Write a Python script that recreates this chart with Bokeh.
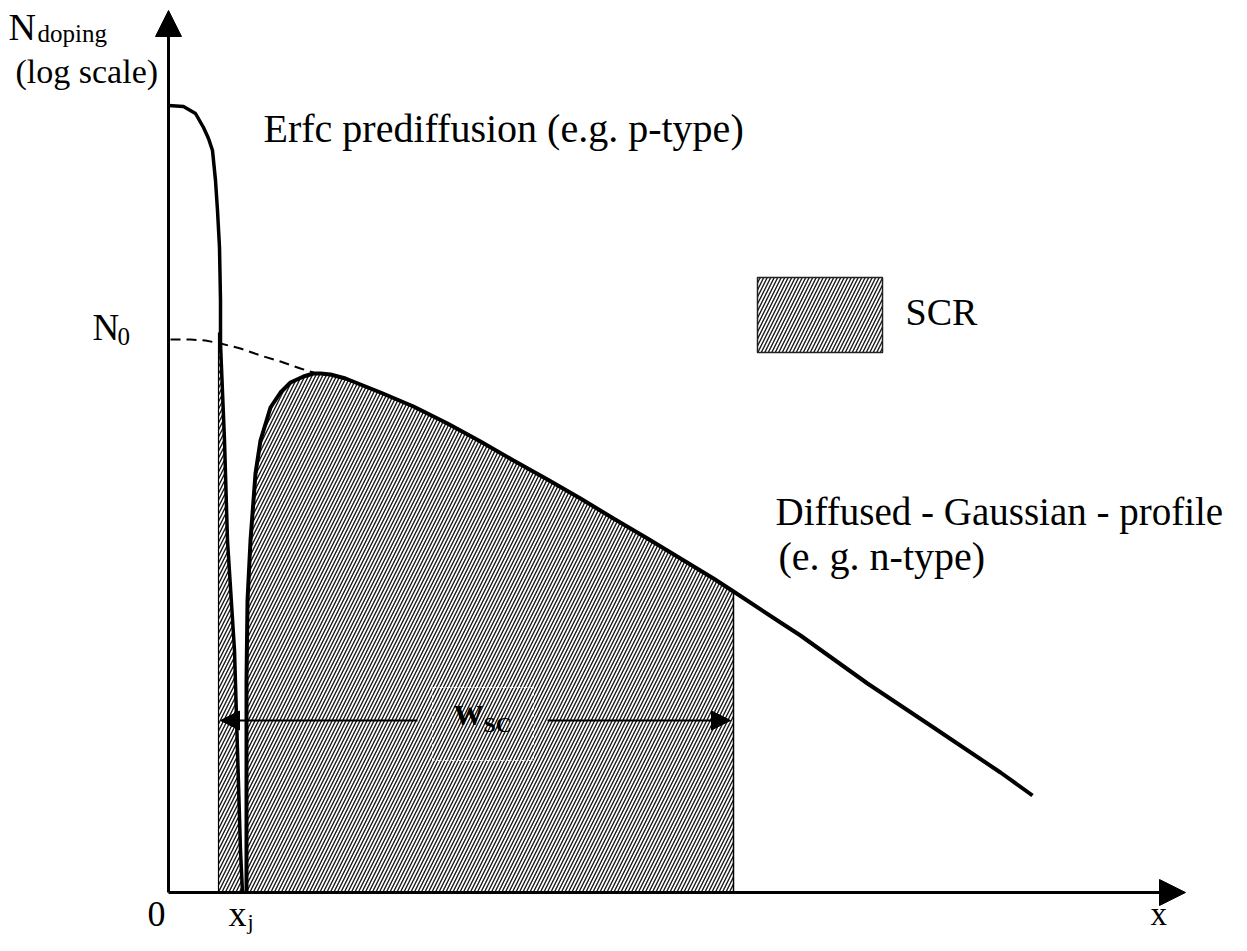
from bokeh.plotting import figure
from bokeh.models import Range1d, Arrow, NormalHead
from bokeh.core.properties import value
from bokeh.embed import file_html
from bokeh.resources import INLINE

# ---- data (depth x, log-doping y; arbitrary units) ----
erfc_x = [0, 15, 27, 35, 40, 44, 45, 46, 47, 49, 51, 52, 52, 56, 59, 66, 69, 72, 74]
erfc_y = [787, 786, 779, 765, 754, 742, 732, 722, 712, 682, 645, 592, 549, 452, 352, 242, 142, 42, 0]

gauss_x = [78, 78, 78, 79, 82, 87, 92, 102, 112, 122, 135, 145, 152, 162, 177, 212, 245,
           279, 312, 345, 379, 412, 445, 479, 512, 545, 565, 612, 632, 699, 765, 832, 864]
gauss_y = [0, 112, 212, 292, 352, 419, 452, 485, 500, 510, 516, 519, 519, 518, 514, 500, 486,
           469, 451, 432, 413, 394, 374, 354, 334, 314, 301, 270, 257, 209, 165, 120, 97]

surf_x = [2, 22, 37, 52, 72, 92, 112, 132, 145]        # dashed: Gaussian near the surface
surf_y = [553, 553, 552, 549, 544, 537, 531, 524, 520]

scr_left = 50       # left edge of space-charge region
scr_right = 565     # right edge of space-charge region
x_axis_end = 1017
y_axis_end = 882

FONT = value("Liberation Serif")

p = figure(width=1231, height=935, output_backend="svg", toolbar_location=None,
           x_range=Range1d(-168, 1063), y_range=Range1d(-43, 892),
           min_border=0, outline_line_color=None)
p.axis.visible = False
p.grid.visible = False
p.background_fill_color = "white"
p.border_fill_color = "white"

HATCH = dict(hatch_pattern="/", hatch_color="#1a1a1a", hatch_weight=1.4, hatch_scale=7,
             fill_color="white")

# main hatched SCR region under the Gaussian
mx = [gx for gx in gauss_x if gx <= scr_right]
my = gauss_y[:len(mx)]
main_x = mx + [scr_right, scr_right]
main_y = my + [gauss_y[len(mx) - 1], 0]
p.patch(main_x, main_y, line_color="black", line_width=1.5, **HATCH)

# thin hatched strip on the p-side
pts = [(ex, ey) for ex, ey in zip(erfc_x, erfc_y) if ex >= 52 and ey <= 560]
sx = [scr_left, scr_left] + [a for a, b in pts]
sy = [0, 560] + [b for a, b in pts]
p.patch(sx, sy, line_color="black", line_width=1.2, **HATCH)

# legend box
p.quad(left=[589], right=[714], bottom=[540], top=[615], line_color="#222", line_width=1.5, **HATCH)

# curves
p.line(erfc_x, erfc_y, line_color="black", line_width=3.5)
p.line(gauss_x, gauss_y, line_color="black", line_width=4)
p.line(surf_x, surf_y, line_color="black", line_width=2, line_dash="10 6")

# axes with arrows
p.add_layout(Arrow(x_start=0, y_start=0, x_end=0, y_end=y_axis_end, line_width=3,
                   end=NormalHead(size=26, fill_color="black", line_color="black")))
p.add_layout(Arrow(x_start=0, y_start=0, x_end=x_axis_end, y_end=0, line_width=3,
                   end=NormalHead(size=26, fill_color="black", line_color="black")))

# W_sc arrows and dashed label box
p.rect(x=[314.5], y=[168.5], width=101, height=73, fill_color=None,
       line_color="white", line_width=1, line_dash="4 3")
p.add_layout(Arrow(x_start=249, y_start=172, x_end=scr_left + 2, y_end=172, line_width=2,
                   end=NormalHead(size=19, fill_color="black", line_color="black")))
p.add_layout(Arrow(x_start=379, y_start=172, x_end=scr_right - 3, y_end=172, line_width=2,
                   end=NormalHead(size=19, fill_color="black", line_color="black")))

def txt(x, y, s, size, style="normal"):
    # y is the wanted baseline; shift to compensate the renderer's baseline offset
    yy = y + 0.36 * size
    p.text(x=[x], y=[yy], text=[s], text_font=FONT, text_font_size=f"{size}px",
           text_font_style=style, text_baseline="alphabetic", text_align="left",
           text_color="black")

txt(-160, 852, "N", 38)
txt(-131, 850, "doping", 25)
txt(-153, 809, "(log scale)", 34)
txt(95, 750, "Erfc prediffusion (e.g. p-type)", 40)
txt(737, 567, "SCR", 38)
txt(607, 367, "Diffused - Gaussian - profile", 39)
txt(610, 322, "(e. g. n-type)", 40)
txt(-76, 552, "N", 37)
txt(-51, 547, "0", 25)
txt(-21, -34, "0", 36)
txt(60, -34, "x", 36)
txt(79, -37, "j", 22)
txt(982, -33, "x", 33)
txt(285, 167, "W", 30, "bold")
txt(315, 160, "SC", 22, "bold")

open("out.html", "w").write(file_html(p, INLINE))
